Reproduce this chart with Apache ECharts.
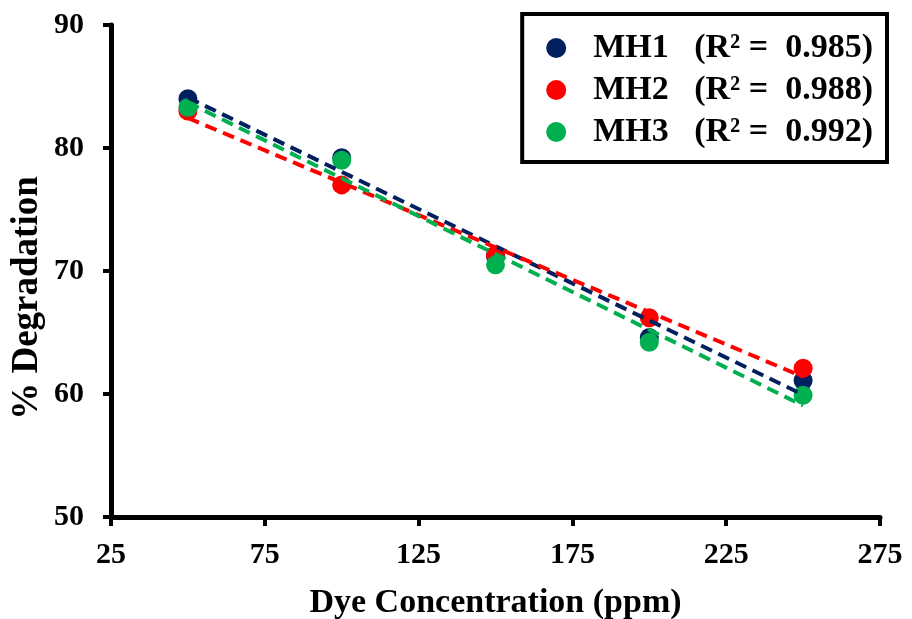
<!DOCTYPE html>
<html>
<head>
<meta charset="utf-8">
<script src="https://cdn.jsdelivr.net/npm/echarts@6/dist/echarts.min.js"></script>
<style>
  html, body { margin: 0; padding: 0; background: #fff; }
  #chart { width: 912px; height: 619px; }
</style>
</head>
<body>
<div id="chart"></div>
<script>
var concentration = [50, 100, 150, 200, 250];
var mh1 = [84.0, 79.2, 71.2, 64.6, 61.1];
var mh2 = [83.0, 77.0, 71.3, 66.2, 62.1];
var mh3 = [83.3, 79.0, 70.5, 64.2, 59.9];
var names = ['MH1   (R\u00b2 =  0.985)', 'MH2   (R\u00b2 =  0.988)', 'MH3   (R\u00b2 =  0.992)'];
var colors = ['#002060', '#ff0000', '#00b050'];

// least squares trend line over the measured range
function trend(xs, ys) {
  var n = xs.length, sx = 0, sy = 0, sxx = 0, sxy = 0;
  for (var i = 0; i < n; i++) {
    sx += xs[i]; sy += ys[i]; sxx += xs[i] * xs[i]; sxy += xs[i] * ys[i];
  }
  var b = (n * sxy - sx * sy) / (n * sxx - sx * sx);
  var a = (sy - b * sx) / n;
  var x0 = xs[0], x1 = xs[n - 1];
  return [[x0, a + b * x0], [x1, a + b * x1]];
}

function pairs(ys) {
  return concentration.map(function (x, i) { return [x, ys[i]]; });
}

var sets = [mh1, mh2, mh3];
var series = [];
sets.forEach(function (ys, i) {
  series.push({
    name: 'fit' + i,
    type: 'line',
    data: trend(concentration, ys),
    symbol: 'none',
    silent: true,
    z: 3,
    lineStyle: { color: colors[i], width: 4, type: [12, 7] }
  });
});
sets.forEach(function (ys, i) {
  series.push({
    name: names[i],
    type: 'scatter',
    data: pairs(ys),
    symbolSize: 19,
    z: 2,
    itemStyle: { color: colors[i], opacity: 1 }
  });
});

var serif = 'Liberation Serif';
var chart = echarts.init(document.getElementById('chart'));
chart.setOption({
  animation: false,
  backgroundColor: '#fff',
  grid: { left: 111, right: 32, top: 25, bottom: 102, containLabel: false, outerBoundsMode: 'none' },
  legend: {
    data: names,
    orient: 'vertical',
    right: 25,
    top: 14,
    padding: [17, 14, 13, 24],
    itemGap: 8,
    itemWidth: 20,
    itemHeight: 20,
    icon: 'circle',
    borderColor: '#000',
    borderWidth: 4,
    textStyle: {
      fontFamily: serif,
      fontWeight: 'bold',
      fontSize: 34,
      color: '#000',
      padding: [0, 0, 0, 22]
    }
  },
  xAxis: {
    type: 'value',
    min: 25,
    max: 275,
    interval: 50,
    name: 'Dye Concentration (ppm)',
    nameLocation: 'middle',
    nameGap: 69,
    nameMoveOverlap: false,
    nameTextStyle: { fontFamily: serif, fontWeight: 'bold', fontSize: 34, color: '#000' },
    axisLine: { onZero: false, lineStyle: { color: '#000', width: 5 } },
    axisTick: { show: true, length: 9, lineStyle: { color: '#000', width: 4 } },
    axisLabel: { margin: 23, fontFamily: serif, fontWeight: 'bold', fontSize: 30, color: '#000' },
    splitLine: { show: false }
  },
  yAxis: {
    type: 'value',
    min: 50,
    max: 90,
    interval: 10,
    name: '% Degradation',
    nameLocation: 'middle',
    nameGap: 65,
    nameMoveOverlap: false,
    nameTextStyle: { fontFamily: serif, fontWeight: 'bold', fontSize: 37, color: '#000', padding: [0, 54, 0, 0] },
    axisLine: { show: true, onZero: false, lineStyle: { color: '#000', width: 5 } },
    axisTick: { show: true, length: 8, lineStyle: { color: '#000', width: 4 } },
    axisLabel: { margin: 27, fontFamily: serif, fontWeight: 'bold', fontSize: 30, color: '#000' },
    splitLine: { show: false }
  },
  series: series
});
</script>
</body>
</html>
